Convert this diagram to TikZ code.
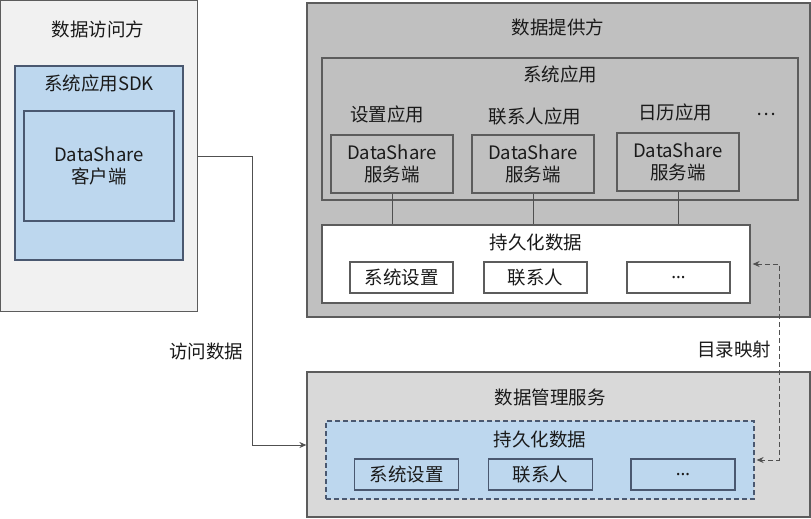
\documentclass[tikz,border=0pt]{standalone}
\usepackage{fontspec}
\setmainfont{Noto Sans CJK SC}
\newfontfamily\dotsfont{Noto Sans}
\usetikzlibrary{arrows.meta}
\definecolor{txt}{HTML}{1A1A1A}
\definecolor{bdr}{HTML}{5C5C5C}
\definecolor{bluebdr}{HTML}{4A5870}
\definecolor{lightbg}{HTML}{F1F1F1}
\definecolor{darkbg}{HTML}{C0C0C0}
\definecolor{midbg}{HTML}{D9D9D9}
\definecolor{blue}{HTML}{BDD7EE}
\definecolor{conn}{HTML}{505050}
\tikzset{
  box/.style={draw=bdr, line width=1.2pt, rectangle, inner sep=0pt, text=txt, align=center, font=\fontsize{18.5}{22}\selectfont},
  bbox/.style={box, draw=bluebdr, fill=blue},
  lbl/.style={text=txt, inner sep=0pt, font=\fontsize{18.5}{22}\selectfont, align=center},
  conline/.style={draw=conn, line width=1pt},
  tip/.style={-{Stealth[length=7pt,width=6pt]}},
}
\begin{document}
\begin{tikzpicture}[x=1pt,y=-1pt]
\useasboundingbox (0,0) rectangle (811,519);
% left: data accessor
\node[box, fill=lightbg, minimum width=197pt, minimum height=311pt] (left) at (99,156) {};
\node[lbl] (lefttitle) at (98,29) {数据访问方};
\node[bbox, minimum width=168pt, minimum height=194pt] (sdk) at (99,163) {};
\node[lbl] (sdktitle) at (99,83) {系统应用SDK};
\node[bbox, minimum width=150pt, minimum height=110pt] (client) at (99,166) {DataShare\\客户端};
% provider
\node[box, fill=darkbg, minimum width=503pt, minimum height=314pt] (prov) at (558.5,160) {};
\node[lbl] (provtitle) at (558,27) {数据提供方};
\node[box, fill=darkbg, minimum width=476pt, minimum height=142pt] (sysapp) at (560,129) {};
\node[lbl] (sysapptitle) at (560,74) {系统应用};
\node[lbl] (app1) at (387,114) {设置应用};
\node[lbl] (app2) at (535,116) {联系人应用};
\node[lbl] (app3) at (675,112) {日历应用};
\node[lbl] (app4) at (766,114) {…};
\node[box, fill=darkbg, minimum width=122pt, minimum height=58pt] (srv1) at (392,164) {DataShare\\服务端};
\node[box, fill=darkbg, minimum width=122pt, minimum height=58pt] (srv2) at (533,164) {DataShare\\服务端};
\node[box, fill=darkbg, minimum width=122pt, minimum height=58pt] (srv3) at (678,162) {DataShare\\服务端};
\node[box, fill=white, minimum width=428pt, minimum height=78pt] (persist) at (536,264) {};
\node[lbl] (persisttitle) at (536,242) {持久化数据};
\node[box, fill=white, minimum width=103pt, minimum height=31pt] (p1) at (401.5,277.5) {系统设置};
\node[box, fill=white, minimum width=103pt, minimum height=31pt] (p2) at (535.5,277.5) {联系人};
\node[box, fill=white, minimum width=103pt, minimum height=31pt] (p3) at (678.5,277.5) {\dotsfont\fontsize{18}{20}\selectfont …};
\draw[conline] (srv1.south) -- (srv1.south |- persist.north);
\draw[conline] (srv2.south) -- (srv2.south |- persist.north);
\draw[conline] (srv3.south) -- (srv3.south |- persist.north);
% data management service
\node[box, fill=midbg, minimum width=503pt, minimum height=145pt] (dms) at (558.5,444.5) {};
\node[lbl] (dmstitle) at (550,397) {数据管理服务};
\node[bbox, dash pattern=on 5pt off 3pt, minimum width=428pt, minimum height=78pt] (dpersist) at (540,460) {};
\node[lbl] (dpersisttitle) at (540,439) {持久化数据};
\node[bbox, minimum width=104pt, minimum height=31pt] (d1) at (406.5,474.5) {系统设置};
\node[bbox, minimum width=104pt, minimum height=31pt] (d2) at (540.5,474.5) {联系人};
\node[bbox, minimum width=104pt, minimum height=31pt] (d3) at (683,474.5) {\dotsfont\fontsize{18}{20}\selectfont …};
% connectors
\coordinate (bend) at (252,445);
\draw[conline, tip] (left.east) -| (bend) -- (dms.west |- bend);
\node[lbl] (accesslbl) at (206,351) {访问数据};
\coordinate (mapx) at (779,300);
\draw[conline, dash pattern=on 5pt off 3pt, {Stealth[length=7pt,width=6pt]}-{Stealth[length=7pt,width=6pt]}, shorten <=2pt, shorten >=2pt]
  (persist.east) -- (persist.east -| mapx) |- (dpersist.east);
\node[lbl] (maplbl) at (734,349) {目录映射};
\end{tikzpicture}
\end{document}
